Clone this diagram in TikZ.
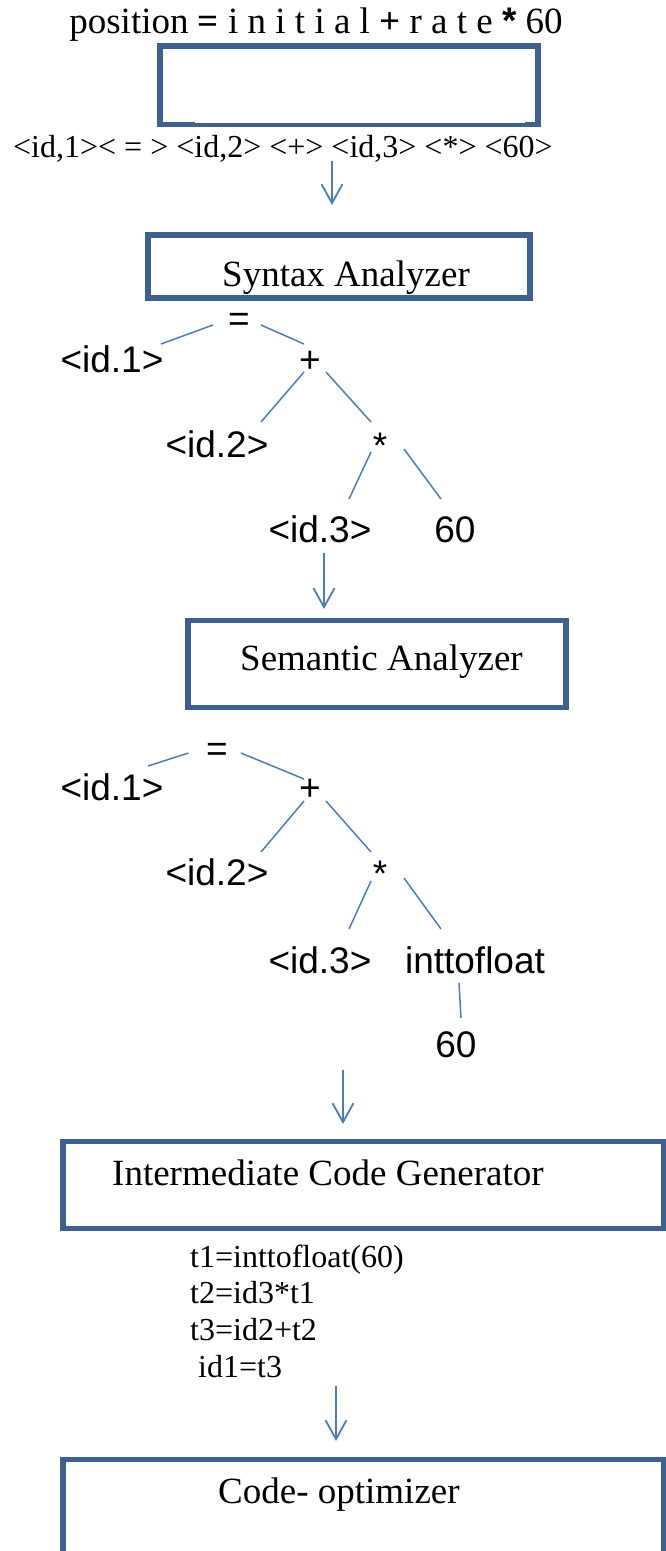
\documentclass[tikz,border=0pt]{standalone}
\usepackage{fontspec}
\setmainfont{Liberation Serif}
\newfontfamily\arialfont{Liberation Sans}
\usetikzlibrary{arrows.meta}
\definecolor{boxblue}{RGB}{62,96,143}
\definecolor{lineblue}{RGB}{74,126,187}
\tikzset{
  stagebox/.style={draw=boxblue, line width=5.5pt, inner sep=0pt},
  serifbig/.style={inner sep=0pt, font=\fontsize{37}{40}\selectfont},
  serifmid/.style={inner sep=0pt, font=\fontsize{32}{36}\selectfont},
  treetext/.style={inner sep=0pt, anchor=base, font=\arialfont\fontsize{37}{40}\selectfont},
  treeedge/.style={draw=lineblue, line width=1.5pt},
  flowarrow/.style={draw=lineblue, line width=1.8pt, -{Straight Barb[length=19pt,width=21pt,line width=1.8pt]}}
}
\begin{document}
\begin{tikzpicture}[x=1pt,y=-1pt]
\useasboundingbox (0,0) rectangle (666,1551);
\clip (0,0) rectangle (666,1551);

% title and lexical stage
\node[serifbig, anchor=base] (title) at (316,33) {position \textbf{=} i n i t i a l \textbf{+} r a t e {\arialfont\bfseries *} 60};
\node[stagebox, minimum width=378pt, minimum height=78.5pt] (lex) at (349,85.25) {};
\fill[white] (195,119.6) rectangle (524.5,123);
\node[serifmid, anchor=base west] (tokens) at (13,157) {<id,1>< = > <id,2> <+> <id,3> <*> <60>};

\coordinate (a1s) at (332,161);
\coordinate (a1e) at (332,205);
\draw[flowarrow] (a1s) -- (a1e);

% syntax analyzer
\node[stagebox, minimum width=382pt, minimum height=63pt] (syn) at (339,266.5) {};
\node[serifbig, anchor=base west] (syntxt) at (222,286) {Syntax Analyzer};

% tree 1
\node[treetext] (t1eq) at (239,331) {=};
\node[treetext] (t1id1) at (112,372) {<id.1>};
\node[treetext] (t1plus) at (310,372) {+};
\node[treetext] (t1id2) at (217,457) {<id.2>};
\node[treetext] (t1mul) at (380,458) {*};
\node[treetext] (t1id3) at (320,542) {<id.3>};
\node[treetext] (t1sixty) at (455,542) {60};

\coordinate (e1a) at (213,325); \coordinate (e1b) at (161,344);
\coordinate (e2a) at (261,325); \coordinate (e2b) at (304,344);
\coordinate (e3a) at (304,372); \coordinate (e3b) at (261,422);
\coordinate (e4a) at (326,372); \coordinate (e4b) at (371,422);
\coordinate (e5a) at (371,452); \coordinate (e5b) at (349,499);
\coordinate (e6a) at (404,449); \coordinate (e6b) at (441,499);
\draw[treeedge] (e1a) -- (e1b);
\draw[treeedge] (e2a) -- (e2b);
\draw[treeedge] (e3a) -- (e3b);
\draw[treeedge] (e4a) -- (e4b);
\draw[treeedge] (e5a) -- (e5b);
\draw[treeedge] (e6a) -- (e6b);

\coordinate (a2s) at (324,553);
\coordinate (a2e) at (324,609);
\draw[flowarrow] (a2s) -- (a2e);

% semantic analyzer
\node[stagebox, minimum width=378pt, minimum height=87pt] (sem) at (377,664) {};
\node[serifbig, anchor=base west] (semtxt) at (240,670) {Semantic Analyzer};

% tree 2
\node[treetext] (t2eq) at (217,761) {=};
\node[treetext] (t2id1) at (112,800) {<id.1>};
\node[treetext] (t2plus) at (310,800) {+};
\node[treetext] (t2id2) at (217,885) {<id.2>};
\node[treetext] (t2mul) at (380,886) {*};
\node[treetext] (t2id3) at (320,973) {<id.3>};
\node[treetext] (t2conv) at (475,973) {inttofloat};
\node[treetext] (t2sixty) at (456,1057) {60};

\coordinate (f1a) at (188.5,753); \coordinate (f1b) at (148,766);
\coordinate (f2a) at (241,753); \coordinate (f2b) at (304,779);
\coordinate (f3a) at (304,801); \coordinate (f3b) at (261,852);
\coordinate (f4a) at (326,801); \coordinate (f4b) at (371,852);
\coordinate (f5a) at (371,881); \coordinate (f5b) at (349,929);
\coordinate (f6a) at (404,878); \coordinate (f6b) at (441,929);
\coordinate (f7a) at (459,983); \coordinate (f7b) at (461,1018);
\draw[treeedge] (f1a) -- (f1b);
\draw[treeedge] (f2a) -- (f2b);
\draw[treeedge] (f3a) -- (f3b);
\draw[treeedge] (f4a) -- (f4b);
\draw[treeedge] (f5a) -- (f5b);
\draw[treeedge] (f6a) -- (f6b);
\draw[treeedge] (f7a) -- (f7b);

\coordinate (a3s) at (343,1070);
\coordinate (a3e) at (343,1124);
\draw[flowarrow] (a3s) -- (a3e);

% intermediate code generator
\node[stagebox, minimum width=600.5pt, minimum height=87pt] (icg) at (363.25,1185) {};
\node[serifbig, anchor=base west] (icgtxt) at (112,1185) {Intermediate Code Generator};

\node[serifmid, anchor=base west] (c1) at (190,1267) {t1=inttofloat(60)};
\node[serifmid, anchor=base west] (c2) at (190,1303) {t2=id3*t1};
\node[serifmid, anchor=base west] (c3) at (190,1340) {t3=id2+t2};
\node[serifmid, anchor=base west] (c4) at (198,1377) {id1=t3};

\coordinate (a4s) at (336,1386);
\coordinate (a4e) at (336,1441);
\draw[flowarrow] (a4s) -- (a4e);

% code optimizer
\node[stagebox, minimum width=600.5pt, minimum height=180.5pt] (opt) at (363.25,1549.75) {};
\node[serifbig, anchor=base west] (opttxt) at (218,1503) {Code- optimizer};
\end{tikzpicture}
\end{document}
